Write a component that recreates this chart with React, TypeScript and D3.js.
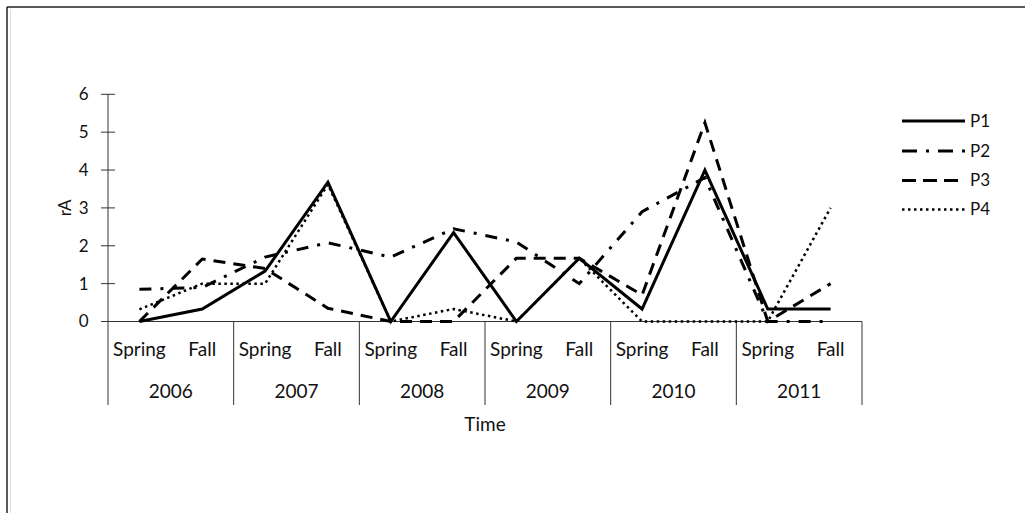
import React from "react";
import * as d3 from "d3";

const years = ["2006", "2007", "2008", "2009", "2010", "2011"];
const seasons = ["Spring", "Fall"];
const categories = years.flatMap((y) => seasons.map((s) => `${s} ${y}`));
const yTicks = [0, 1, 2, 3, 4, 5, 6];

const P1 = [0, 0.33, 1.33, 3.68, 0, 2.35, 0, 1.67, 0.33, 4.0, 0.33, 0.33];
const P2 = [0.85, 0.9, 1.7, 2.08, 1.7, 2.45, 2.1, 1.0, 2.9, 3.8, 0, 0];
const P3 = [0, 1.65, 1.4, 0.35, 0, 0, 1.67, 1.67, 0.7, 5.25, 0, 1.0];
const P4 = [0.32, 1.0, 1.0, 3.62, 0, 0.33, 0, 1.67, 0, 0, 0, 3.0];

const seriesNames = ["P1", "P2", "P3", "P4"];
const seriesValues = [P1, P2, P3, P4];
const seriesDash = ["", "12 9 3 9", "12 8", "2.5 3.5"];
const legendDash = ["", "15 9 3 9", "14 7", "2.5 3.5"];

const W = 1025;
const H = 513;
const left = 108;
const right = 862;
const top = 94.3;
const bottom = 321.5;
const FONT = "Lato, 'Open Sans', sans-serif";

export default function App() {
  const x = d3.scaleBand<string>().domain(categories).range([left, right]);
  const y = d3.scaleLinear().domain([0, 6]).range([bottom, top]);
  const yearScale = d3.scaleBand<string>().domain(years).range([left, right]);
  const line = d3
    .line<number>()
    .x((_, i) => (x(categories[i]) as number) + x.bandwidth() / 2)
    .y((d) => y(d));

  const legendY = [121, 151, 180.5, 209.5];

  return (
    <svg
      width={W}
      height={H}
      style={{ position: "absolute", left: 0, top: 0, background: "#fff" }}
      fontFamily={FONT}
    >
      <rect x={0} y={0} width={W} height={H} fill="#fff" />
      {/* outer frame */}
      <line x1={7} y1={7} x2={W + 5} y2={7} stroke="#222" strokeWidth={1.5} />
      <line x1={7} y1={7} x2={7} y2={H + 5} stroke="#222" strokeWidth={1.5} />
      <line x1={10.5} y1={9} x2={10.5} y2={H + 5} stroke="#ddd" strokeWidth={1} />

      {/* y axis */}
      <line x1={left} y1={top} x2={left} y2={bottom} stroke="#333" strokeWidth={1} />
      {yTicks.map((t) => (
        <g key={t}>
          <line x1={left - 7} x2={left + 7} y1={y(t)} y2={y(t)} stroke="#333" strokeWidth={1} />
          <text x={88.5} y={y(t)} dy="0.35em" textAnchor="end" fontSize={17} fill="#111">
            {t}
          </text>
        </g>
      ))}
      <text
        transform={`translate(71,${(top + bottom) / 2}) rotate(-90)`}
        textAnchor="middle"
        fontSize={17}
        fill="#111"
      >
        rA
      </text>

      {/* x axis */}
      <line x1={left} y1={bottom} x2={right} y2={bottom} stroke="#333" strokeWidth={1} />
      {years.map((yr, i) => {
        const x0 = yearScale(yr) as number;
        return (
          <g key={yr}>
            <line x1={x0} x2={x0} y1={bottom} y2={405} stroke="#333" strokeWidth={1} />
            {i === years.length - 1 && (
              <line
                x1={x0 + yearScale.bandwidth()}
                x2={x0 + yearScale.bandwidth()}
                y1={bottom}
                y2={405}
                stroke="#333"
                strokeWidth={1}
              />
            )}
            <text
              x={x0 + yearScale.bandwidth() / 2}
              y={398}
              textAnchor="middle"
              fontSize={19}
              fill="#111"
            >
              {yr}
            </text>
          </g>
        );
      })}
      {categories.map((c) => (
        <text
          key={c}
          x={(x(c) as number) + x.bandwidth() / 2}
          y={356}
          textAnchor="middle"
          fontSize={19}
          fill="#111"
        >
          {c.split(" ")[0]}
        </text>
      ))}
      <text x={(left + right) / 2} y={431} textAnchor="middle" fontSize={19} fill="#111">
        Time
      </text>

      {/* series */}
      {seriesValues.map((vals, i) => (
        <path
          key={seriesNames[i]}
          d={line(vals) as string}
          fill="none"
          stroke="#000"
          strokeWidth={i === 3 ? 2.5 : 3}
          strokeDasharray={seriesDash[i] || undefined}
          strokeLinejoin="miter"
        />
      ))}

      {/* legend */}
      {seriesNames.map((n, i) => (
        <g key={n}>
          <line
            x1={902}
            x2={965}
            y1={legendY[i]}
            y2={legendY[i]}
            stroke="#000"
            strokeWidth={i === 3 ? 2.5 : 3}
            strokeDasharray={legendDash[i] || undefined}
          />
          <text x={970} y={legendY[i]} dy="0.35em" fontSize={17} fill="#111">
            {n}
          </text>
        </g>
      ))}
    </svg>
  );
}
